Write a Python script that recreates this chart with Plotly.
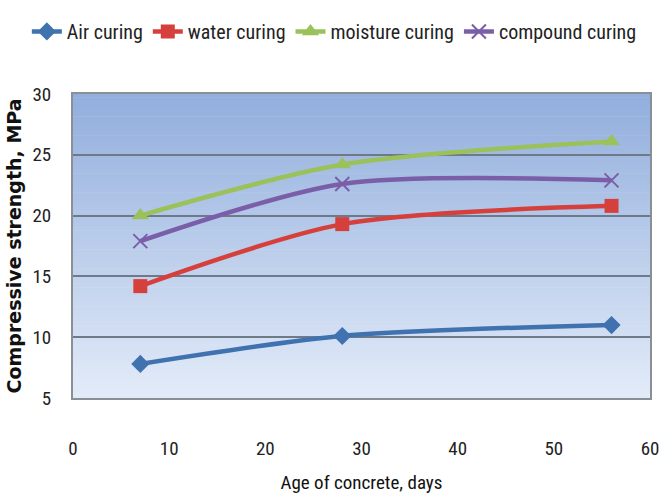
import plotly.graph_objects as go

# Curing age (days) and compressive strength (MPa) per curing method
age_days = [7, 28, 56]
air_curing = [7.8, 10.1, 11.0]
water_curing = [14.2, 19.3, 20.8]
moisture_curing = [20.0, 24.2, 26.1]
compound_curing = [17.9, 22.6, 22.9]

x_ticks = [0, 10, 20, 30, 40, 50, 60]
y_ticks = [5, 10, 15, 20, 25, 30]

series = [
    ("Air curing", air_curing, "#3F72AF", "diamond", 14),
    ("water curing", water_curing, "#D6403C", "square", 14),
    ("moisture curing", moisture_curing, "#9BC15A", "triangle-up", 15),
    ("compound curing", compound_curing, "#7B5EA8", "x-thin", 14),
]

fig = go.Figure()
for name, vals, color, symbol, size in series:
    marker = dict(symbol=symbol, size=size, color=color)
    if symbol == "x-thin":
        marker["line"] = dict(color=color, width=2)
    fig.add_trace(go.Scatter(
        x=age_days, y=vals, name=name,
        mode="lines+markers",
        line=dict(color=color, width=4.5, shape="spline", smoothing=0.8),
        marker=marker,
    ))

# Vertical gradient fill of the plotting area
n_bands = 80
top = (146, 174, 221)
bottom = (226, 235, 248)
for i in range(n_bands):
    t = i / (n_bands - 1)
    c = tuple(round(top[k] + (bottom[k] - top[k]) * t) for k in range(3))
    y1 = 1 - i / n_bands
    y0 = 1 - (i + 1) / n_bands
    fig.add_shape(type="rect", xref="x domain", yref="y domain",
                  x0=0, x1=1, y0=y0, y1=y1 + 0.002,
                  fillcolor="rgb(%d,%d,%d)" % c, line=dict(width=0),
                  layer="below")

narrow = "Liberation Sans Narrow, Arial Narrow, Roboto Condensed, sans-serif"

fig.update_layout(
    width=670, height=498,
    margin=dict(l=73, r=20, t=90, b=100),
    paper_bgcolor="white",
    plot_bgcolor="rgba(0,0,0,0)",
    showlegend=True,
    legend=dict(
        orientation="h", x=-0.08, xanchor="left", y=1.27, yanchor="top",
        font=dict(family=narrow, size=20, color="#222222"),
        itemwidth=30, tracegroupgap=0, bgcolor="rgba(0,0,0,0)",
    ),
    xaxis=dict(
        range=[0, 60], tickvals=x_ticks, showgrid=False, zeroline=False,
        showline=True, linecolor="#8A8F96", linewidth=2, mirror=True,
        ticks="", ticklabelstandoff=32, automargin=False,
        tickfont=dict(family=narrow, size=19, color="#222222"),
        title=dict(text="Age of concrete, days", standoff=17,
                   font=dict(family=narrow, size=19, color="#111111")),
    ),
    yaxis=dict(
        range=[5, 30], tickvals=y_ticks, showgrid=True,
        gridcolor="#6F7A88", gridwidth=1.5, zeroline=False,
        showline=True, linecolor="#8A8F96", linewidth=2, mirror=True,
        ticks="", ticklabelstandoff=16, automargin=False,
        tickfont=dict(family=narrow, size=19, color="#222222"),
        title=dict(text="<b>Compressive strength, MPa</b>", standoff=6,
                   font=dict(family="DejaVu Sans", size=19, color="#111111")),
    ),
)

fig.write_html("out.html")
